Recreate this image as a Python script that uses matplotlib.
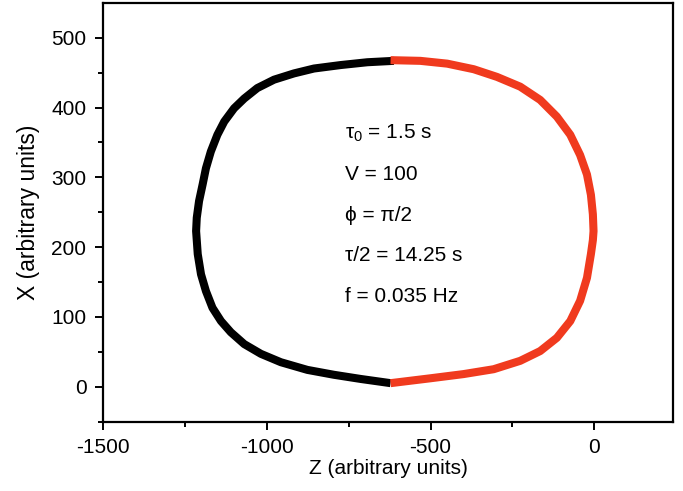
import numpy as np
import matplotlib.pyplot as plt

plt.rcParams['font.family'] = ['Liberation Sans', 'DejaVu Sans']
plt.rcParams['mathtext.fontset'] = 'custom'
plt.rcParams['mathtext.rm'] = 'Liberation Sans'
plt.rcParams['mathtext.it'] = 'Liberation Sans'
plt.rcParams['axes.unicode_minus'] = False

# left half of the loop (black), top -> bottom
zBlack = [-612, -693, -774, -856, -917, -978, -1029, -1069, -1100, -1130, -1151, -1171,
          -1186, -1196, -1207, -1214, -1216, -1211, -1201, -1186, -1166, -1140, -1110,
          -1069, -1018, -957, -876, -795, -713, -622]
xBlack = [467, 465, 461, 456, 449, 440, 428, 413, 399, 380, 361, 337,
          313, 290, 266, 242, 223, 190, 161, 137, 113, 94, 78,
          61, 47, 35, 24, 17, 11, 5]
# right half of the loop (red), bottom -> top
zRed = [-622, -500, -399, -307, -226, -165, -114, -73, -43, -22, -10, -4, -2,
        -4, -10, -22, -43, -73, -114, -165, -226, -297, -368, -449, -531, -622]
xRed = [5, 12, 18, 25, 37, 51, 70, 94, 123, 156, 190, 210, 223,
        247, 275, 304, 332, 361, 387, 411, 430, 444, 455, 463, 467, 468]

labels = [r'τ$_0$ = 1.5 s', 'V = 100', 'ϕ = π/2', 'τ/2 = 14.25 s', 'f = 0.035 Hz']

fig = plt.figure(figsize=(6.83, 4.91), dpi=100)
ax = fig.add_axes([0.151, 0.1415, 0.834, 0.8525])

ax.plot(zBlack, xBlack, color='black', lw=5.8, solid_capstyle='butt', solid_joinstyle='round')
ax.plot(zRed, xRed, color='#f03a1e', lw=5.8, solid_capstyle='butt', solid_joinstyle='round')

ax.set_xlim(-1500, 240)
ax.set_ylim(-50, 550)
ax.set_xticks([-1500, -1000, -500, 0])
ax.set_xticks([-1250, -750, -250], minor=True)
ax.set_yticks([0, 100, 200, 300, 400, 500])
ax.set_yticks([-50, 50, 150, 250, 350, 450], minor=True)
ax.tick_params(which='both', direction='out', width=1.4, labelsize=15, top=False, right=False)
ax.tick_params(axis='x', which='major', length=6, pad=6)
ax.tick_params(axis='y', which='major', length=6, pad=6)
ax.tick_params(which='minor', length=3.5)
for s in ax.spines.values():
    s.set_linewidth(1.6)

ax.set_xlabel('Z (arbitrary units)', fontsize=15, labelpad=1)
ax.set_ylabel('X (arbitrary units)', fontsize=16.5, labelpad=8)

yText = [0.689, 0.591, 0.493, 0.397, 0.299]
for t, yy in zip(labels, yText):
    ax.text(0.425, yy, t, transform=ax.transAxes, fontsize=15, va='center', ha='left')

fig.savefig('out.png', dpi=100)
